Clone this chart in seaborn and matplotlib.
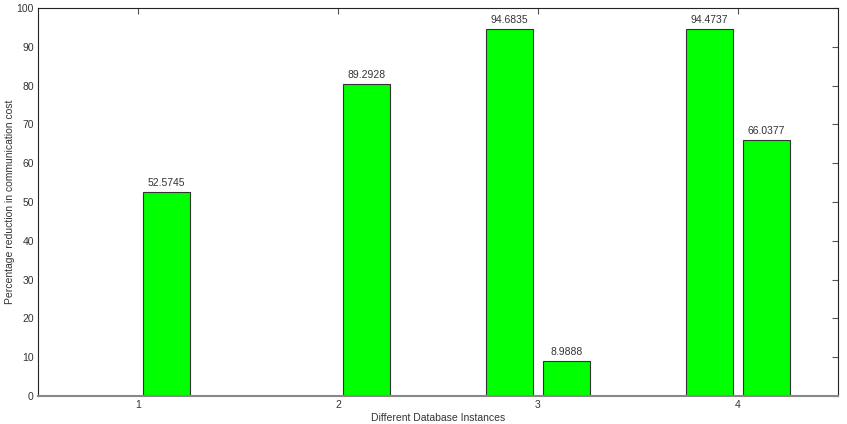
import pandas as pd
import seaborn as sns
import matplotlib.pyplot as plt

# data
instances = ["1", "2", "3", "4"]
first_bar = [0, 0, 94.6835, 94.4737]
second_bar = [52.5745, 80.3, 8.9888, 66.0377]
first_labels = ["", "", "94.6835", "94.4737"]
second_labels = ["52.5745", "89.2928", "8.9888", "66.0377"]

df = pd.DataFrame(
    {
        "instance": instances * 2,
        "value": first_bar + second_bar,
        "series": ["a"] * 4 + ["b"] * 4,
    }
)

sns.set_style("white")
plt.rcParams["font.family"] = ["Liberation Sans", "DejaVu Sans"]

fig = plt.figure(figsize=(8.47, 4.24), dpi=100)
ax = fig.add_axes([0.0449, 0.066, 0.9445, 0.915])

sns.barplot(
    data=df,
    x="instance",
    y="value",
    hue="series",
    palette=["#00ff00", "#00ff00"],
    width=0.57,
    gap=0.19,
    edgecolor="#333333",
    linewidth=0.8,
    saturation=1,
    legend=False,
    ax=ax,
)

for cont, labs in zip(ax.containers, [first_labels, second_labels]):
    ax.bar_label(cont, labels=labs, padding=3, fontsize=7.5, color="#333333")

ax.set_xlim(-0.5, 3.5)
ax.set_ylim(0, 100)
ax.set_yticks(range(0, 101, 10))
ax.set_xlabel("Different Database Instances", fontsize=7.5, color="#333333", labelpad=2)
ax.set_ylabel(
    "Percentage reduction in communication cost", fontsize=7.5, color="#333333", labelpad=1
)
ax.tick_params(
    axis="both", direction="in", length=4, width=0.8, colors="#555555",
    labelsize=7.5, labelcolor="#333333", top=True, right=True, pad=3,
)
for side in ["top", "right", "left"]:
    ax.spines[side].set_color("#222222")
    ax.spines[side].set_linewidth(0.8)
ax.spines["bottom"].set_color("#888888")
ax.spines["bottom"].set_linewidth(1.5)

plt.savefig("out.png", dpi=100)
